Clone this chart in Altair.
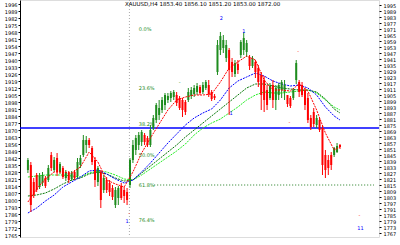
import altair as alt
import pandas as pd

# ---------------- data ----------------
candle_open = [1830,1835,1818,1825,1813,1817,1822,1820,1845,1830,1842,1828,1832,1822,1827,1821,1828,1824,1835,1845,
               1855,1860,1852,1840,1818,1828,1810,1820,1817,1812,1795,1802,1814,1810,1808,1815,1840,1850,1855,1858,
               1865,1862,1855,1872,1880,1885,1890,1895,1900,1902,1903,1905,1902,1900,1898,1900,1904,1906,1908,1913,
               1908,1912,1915,1908,1904,1928,1950,1952,1942,1950,1938,1926,1936,1945,1950,1948,1943,1934,1938,1932,
               1925,1920,1910,1902,1915,1900,1905,1910,1908,1905,1902,1902,1920,1918,1915,1910,1902,1882,1888,1875,
               1880,1872,1845,1840,1845,1845,1848,1855]
candle_high = [1842,1838,1822,1827,1827,1828,1824,1835,1848,1843,1847,1838,1834,1830,1829,1829,1830,1842,1845,1865,
               1864,1862,1854,1843,1834,1830,1825,1823,1820,1815,1813,1814,1817,1813,1812,1842,1860,1865,1868,1870,
               1867,1864,1875,1885,1897,1900,1903,1907,1907,1909,1910,1908,1904,1902,1900,1912,1913,1915,1917,1915,
               1918,1920,1920,1910,1906,1960,1968,1965,1960,1952,1942,1940,1940,1960,1968,1960,1945,1944,1940,1935,
               1928,1924,1915,1917,1920,1915,1917,1920,1920,1905,1904,1912,1940,1920,1918,1912,1907,1885,1892,1885,
               1882,1875,1850,1845,1848,1853,1857,1856]
candle_low = [1827,1788,1802,1808,1811,1814,1812,1818,1829,1828,1824,1826,1821,1819,1817,1819,1820,1822,1832,1843,
              1847,1852,1835,1813,1814,1792,1807,1807,1804,1800,1792,1795,1800,1797,1795,1812,1837,1845,1850,1854,
              1855,1853,1853,1870,1877,1880,1887,1890,1897,1898,1900,1894,1890,1883,1885,1898,1901,1903,1905,1905,
              1906,1910,1903,1899,1900,1925,1945,1947,1938,1885,1923,1923,1926,1942,1945,1943,1930,1932,1922,1913,
              1890,1888,1890,1900,1892,1890,1900,1902,1900,1893,1892,1900,1916,1903,1903,1890,1877,1870,1873,1872,
              1868,1825,1822,1825,1830,1843,1847,1851]
candle_close = [1840,1795,1805,1810,1824,1825,1814,1832,1832,1840,1828,1836,1823,1828,1820,1827,1822,1838,1842,1860,
                1860,1855,1838,1820,1832,1800,1822,1810,1808,1803,1810,1812,1802,1804,1800,1840,1855,1862,1865,1868,
                1858,1855,1870,1882,1895,1892,1900,1905,1904,1907,1908,1897,1892,1890,1888,1908,1910,1912,1914,1907,
                1915,1918,1906,1901,1902,1955,1964,1960,1955,1930,1928,1937,1930,1958,1962,1957,1934,1942,1928,1918,
                1905,1900,1895,1914,1900,1912,1915,1918,1915,1896,1894,1910,1937,1908,1905,1895,1880,1873,1876,1882,
                1870,1835,1830,1832,1835,1852,1854,1853]
candle_idx = list(range(len(candle_open)))

ma_idx = [0,3,6,9,12,15,18,21,24,27,30,33,36,39,42,45,48,51,54,57,60,63,66,69,72,75,78,81,84,87,90,93,96,99,102,105,107]
ma_red = [1798,1811,1821,1828,1828,1827,1833,1848,1838,1820,1816,1813,1828,1847,1862,1876,1890,1900,1903,1905,1905,
          1906,1918,1932,1938,1944,1940,1920,1910,1910,1909,1916,1909,1890,1867,1850,1853]
ma_blue = [1787,1792,1799,1805,1813,1818,1823,1829,1830,1826,1821,1817,1820,1828,1837,1847,1857,1866,1875,1882,1887,
           1891,1900,1912,1919,1923,1927,1924,1919,1916,1914,1915,1912,1905,1893,1884,1880]
ma_darkgreen = [1804,1805,1807,1811,1816,1820,1822,1826,1828,1826,1822,1819,1820,1827,1834,1841,1848,1855,1863,1870,
                1877,1884,1891,1898,1905,1912,1916,1916,1914,1912,1911,1910,1910,1908,1901,1891,1887]
ma_lightgreen = [1823,1824,1825,1825,1825,1824,1823,1827,1829,1828,1825,1821,1820,1825,1831,1837,1843,1849,1856,1865,
                 1872,1877,1881,1887,1893,1900,1905,1908,1907,1907,1908,1909,1910,1907,1900,1893,1890]

fib_labels = ["0.0%", "23.6%", "38.2%", "50.0%", "61.8%", "76.4%"]
fib_prices = [1971, 1912, 1876, 1845, 1815, 1780]
fib_label_idx = 38
fib_line_price = 1815
fib_line_start = 43.3

hline_price = 1872
separator_idx = 34.8

marker_idx = [66.3, 74.0, 69.7, 34.0, 114.0, 34.7, 89.7, 92.7, 113.7, 52.0]
marker_price = [1982, 1969, 1887, 1779, 1772, 1787, 1878, 1949, 1785, 1918]
marker_text = ["2", "1", "1", "1", "11", "-", "-", "-", "-", "-"]
marker_color = ["#0000ff", "#0000ff", "#0000ff", "#0000ff", "#0000ff",
                "#ff0000", "#ff0000", "#ff0000", "#ff0000", "#1e8c1e"]

title_text = "XAUUSD,H4  1853.40 1856.10 1851.20 1853.00  1872.00"

left_ticks = [1996,1989,1982,1975,1968,1961,1954,1947,1940,1933,1926,1919,1912,1905,1898,1891,1884,
              1877,1870,1863,1856,1849,1842,1835,1828,1821,1814,1807,1800,1793,1786,1779,1772,1765]
right_ticks = [1995,1989,1983,1977,1971,1965,1959,1953,1947,1941,1935,1929,1923,1917,1911,1905,1899,1893,
               1887,1881,1875,1869,1863,1857,1851,1845,1839,1833,1827,1821,1815,1809,1803,1797,1791,1785,
               1779,1773,1767]
x_tick_values = [-1, 17, 35, 53, 71, 89, 107]
x_tick_labels = ["1", "", "5", "", "", "4", ""]

# ---------------- frames ----------------
candles = pd.DataFrame({"i": candle_idx, "open": candle_open, "high": candle_high,
                        "low": candle_low, "close": candle_close})
ma = pd.DataFrame({"i": ma_idx, "red": ma_red, "blue": ma_blue,
                   "dg": ma_darkgreen, "lg": ma_lightgreen})
fib = pd.DataFrame({"lab": fib_labels, "p": fib_prices, "i": [fib_label_idx] * len(fib_labels)})
markers = pd.DataFrame({"i": marker_idx, "p": marker_price, "t": marker_text, "c": marker_color})

FONT = "DejaVu Sans"
xs = alt.Scale(domain=[-1, 118.667], nice=False, zero=False)
ys = alt.Scale(domain=[1763, 2000], nice=False, zero=False)

GREEN = "#1e8c1e"
RED = "#ff0000"
col = alt.condition("datum.close >= datum.open", alt.value(GREEN), alt.value(RED))

xlab_expr = "{" + ",".join(f"'{v}':'{l}'" for v, l in zip(x_tick_values, x_tick_labels)) + "}[datum.value]"

x_axis = alt.Axis(values=x_tick_values, labelExpr=xlab_expr, title=None, grid=False,
                  tickSize=3, labelFontSize=5, labelFont=FONT, labelPadding=0,
                  labelAlign="left", labelColor="black", domainColor="black",
                  tickColor="black", labelOverlap=False)
left_axis = alt.Axis(values=left_ticks, orient="left", title=None, grid=False, tickSize=2,
                     labelFontSize=5, labelFont=FONT, labelPadding=1, labelColor="black",
                     domainColor="black", tickColor="black", labelOverlap=False, format="d")
right_axis = alt.Axis(values=right_ticks, orient="right", title=None, grid=False, tickSize=2,
                      labelFontSize=5, labelFont=FONT, labelPadding=2, labelColor="black",
                      domain=False, tickColor="black", labelOverlap=False, format="d")

sep = alt.Chart(pd.DataFrame({"x": [separator_idx]})).mark_rule(
    color="#aaaaaa", strokeDash=[1, 2], strokeWidth=1).encode(
    x=alt.X("x:Q", scale=xs, axis=None))

hline = alt.Chart(pd.DataFrame({"p": [hline_price]})).mark_rule(
    color="#0000ff", strokeWidth=1.5).encode(
    y=alt.Y("p:Q", scale=ys, axis=None))

fibline = alt.Chart(pd.DataFrame({"p": [fib_line_price], "a": [fib_line_start], "b": [118.667]})).mark_rule(
    color="#1e7a1e", strokeDash=[1, 2], strokeWidth=1).encode(
    x=alt.X("a:Q", scale=xs, axis=None), x2="b:Q",
    y=alt.Y("p:Q", scale=ys, axis=None))

def ma_line(field, color):
    return alt.Chart(ma).mark_line(color=color, strokeWidth=1, strokeDash=[2, 1]).encode(
        x=alt.X("i:Q", scale=xs, axis=None),
        y=alt.Y(f"{field}:Q", scale=ys, axis=None))

lg = ma_line("lg", "#22ee22")
dg = ma_line("dg", "#0a7a0a")
bl = ma_line("blue", "#0000ff")
rd = ma_line("red", "#ff0000")

wicks = alt.Chart(candles).mark_rule(strokeWidth=1).encode(
    x=alt.X("i:Q", scale=xs, axis=x_axis),
    y=alt.Y("low:Q", scale=ys, axis=left_axis),
    y2="high:Q",
    color=col)

bodies = alt.Chart(candles).mark_bar(width=2).encode(
    x=alt.X("i:Q", scale=xs, axis=None),
    y=alt.Y("open:Q", scale=ys, axis=right_axis),
    y2="close:Q",
    color=col)

fibtext = alt.Chart(fib).mark_text(align="left", baseline="middle", fontSize=5, font=FONT,
                                   color="#1e8c1e").encode(
    x=alt.X("i:Q", scale=xs, axis=None),
    y=alt.Y("p:Q", scale=ys, axis=None),
    text="lab:N")

mk = alt.Chart(markers).mark_text(align="center", baseline="middle", fontSize=5, font=FONT).encode(
    x=alt.X("i:Q", scale=xs, axis=None),
    y=alt.Y("p:Q", scale=ys, axis=None),
    text="t:N",
    color=alt.Color("c:N", scale=None))

title = alt.Chart(pd.DataFrame({"t": [title_text]})).mark_text(
    align="left", baseline="middle", fontSize=5.5, font=FONT, color="black").encode(
    text="t:N", x=alt.value(105), y=alt.value(4))

chart = alt.layer(sep, hline, fibline, lg, dg, bl, wicks, bodies, rd, fibtext, mk, title).properties(
    width=359, height=237, autosize="none",
    padding={"left": 20, "top": 0, "right": 21, "bottom": 8}
).resolve_axis(y="independent").configure_view(stroke=None).configure(background="white")

chart.save("out.html", embed_options={"renderer": "svg", "actions": False})
